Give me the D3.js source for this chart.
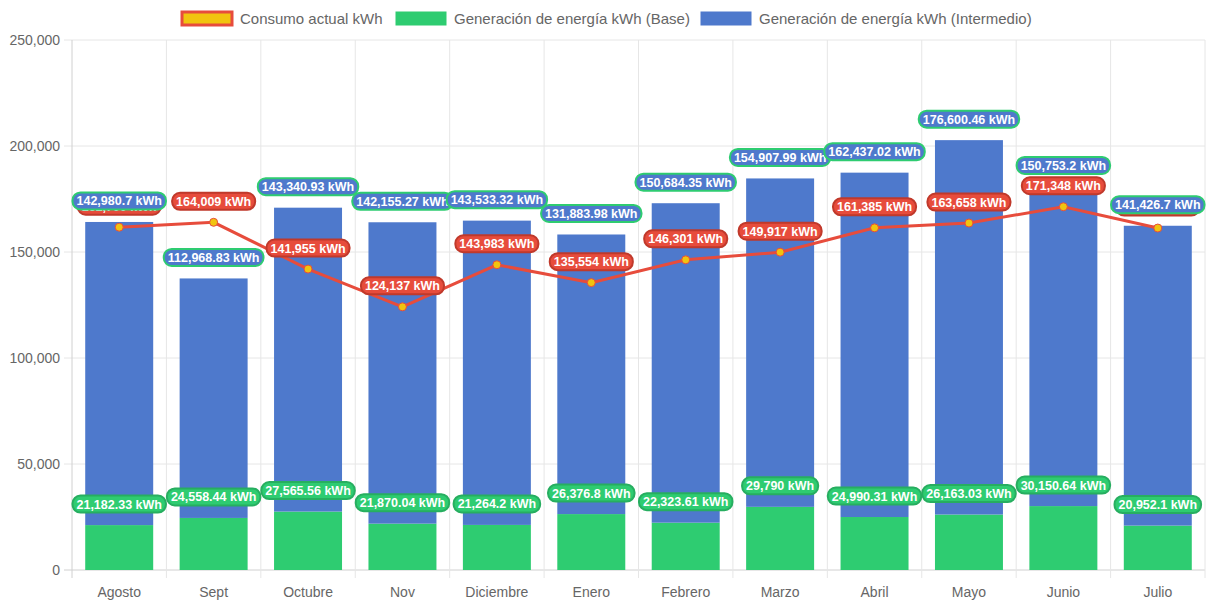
<!DOCTYPE html>
<html>
<head>
<meta charset="utf-8">
<script src="https://cdn.jsdelivr.net/npm/d3@7"></script>
<style>
    body { margin: 0; background: #fff; }
    svg { display: block; font-family: "Liberation Sans", Arial, sans-serif; }
</style>
</head>
<body>
<svg width="1213" height="606"></svg>
<script>
// Chart data
const months = ["Agosto", "Sept", "Octubre", "Nov", "Diciembre", "Enero", "Febrero", "Marzo", "Abril", "Mayo", "Junio", "Julio"];
const baseGen = [21182.33, 24558.44, 27565.56, 21870.04, 21264.2, 26376.8, 22323.61, 29790, 24990.31, 26163.03, 30150.64, 20952.1];
const interGen = [142980.7, 112968.83, 143340.93, 142155.27, 143533.32, 131883.98, 150684.35, 154907.99, 162437.02, 176600.46, 150753.2, 141426.7];
const consumo = [161700, 164009, 141955, 124137, 143983, 135554, 146301, 149917, 161385, 163658, 171348, 161300];
const yTicks = [0, 50000, 100000, 150000, 200000, 250000];
const legendItems = [
    {label: "Consumo actual kWh", fill: "#f1c40f", stroke: "#e74c3c", sw: 3},
    {label: "Generación de energía kWh (Base)", fill: "#2ecc71", stroke: "#2ecc71", sw: 1},
    {label: "Generación de energía kWh (Intermedio)", fill: "#4e79cc", stroke: "#4e79cc", sw: 1}
];

const svg = d3.select("svg");
const margin = {left: 72, right: 8, top: 40, bottom: 36};
const W = 1213, H = 606;

const x = d3.scaleBand().domain(months).range([margin.left, W - margin.right]).paddingInner(0).paddingOuter(0);
const y = d3.scaleLinear().domain([0, 250000]).range([H - margin.bottom, margin.top]);
const fmt = d3.format(",");
const barW = x.bandwidth() * 0.72;

// Grid
const grid = svg.append("g");
grid.selectAll("line.h").data(yTicks).join("line")
    .attr("x1", margin.left - 8).attr("x2", W - margin.right)
    .attr("y1", d => y(d)).attr("y2", d => y(d))
    .attr("stroke", d => d === 0 ? "#d0d0d0" : "#e6e6e6");
const vx = months.map(m => x(m)).concat([W - margin.right]);
grid.selectAll("line.v").data(vx).join("line")
    .attr("x1", d => d).attr("x2", d => d)
    .attr("y1", margin.top).attr("y2", H - margin.bottom + 8)
    .attr("stroke", (d, i) => i === 0 ? "#d0d0d0" : "#e6e6e6");

// Axis labels
svg.append("g").selectAll("text").data(yTicks).join("text")
    .attr("x", margin.left - 12).attr("y", d => y(d)).attr("dy", "0.35em")
    .attr("text-anchor", "end").attr("fill", "#666").attr("font-size", 14)
    .text(d => fmt(d));
svg.append("g").selectAll("text").data(months).join("text")
    .attr("x", d => x(d) + x.bandwidth() / 2).attr("y", H - margin.bottom + 27)
    .attr("text-anchor", "middle").attr("fill", "#666").attr("font-size", 14)
    .text(d => d);

// Stacked bars
const cx = m => x(m) + x.bandwidth() / 2;
svg.append("g").selectAll("rect").data(months).join("rect")
    .attr("x", d => cx(d) - barW / 2).attr("width", barW)
    .attr("y", (d, i) => y(baseGen[i])).attr("height", (d, i) => y(0) - y(baseGen[i]))
    .attr("fill", "#2ecc71");
svg.append("g").selectAll("rect").data(months).join("rect")
    .attr("x", d => cx(d) - barW / 2).attr("width", barW)
    .attr("y", (d, i) => y(baseGen[i] + interGen[i]))
    .attr("height", (d, i) => y(baseGen[i]) - y(baseGen[i] + interGen[i]))
    .attr("fill", "#4e79cc");

// Consumption line
const line = d3.line().x((d, i) => cx(months[i])).y(d => y(d));
svg.append("path").datum(consumo).attr("d", line)
    .attr("fill", "none").attr("stroke", "#e74c3c").attr("stroke-width", 3);
svg.append("g").selectAll("circle").data(consumo).join("circle")
    .attr("cx", (d, i) => cx(months[i])).attr("cy", d => y(d)).attr("r", 4)
    .attr("fill", "#f1c40f").attr("stroke", "#e74c3c").attr("stroke-width", 1);

// Data labels (drawn red, then green, then blue)
function labels(vals, tops, fill, stroke) {
    const g = svg.append("g");
    vals.forEach((v, i) => {
        const t = fmt(v) + " kWh";
        const lg = g.append("g").attr("transform", `translate(${cx(months[i])},${y(tops[i]) - 21})`);
        const rect = lg.append("rect").attr("fill", fill).attr("stroke", stroke).attr("stroke-width", 2);
        const txt = lg.append("text").attr("text-anchor", "middle").attr("dy", "0.36em")
            .attr("fill", "#fff").attr("font-size", 12.5).attr("font-weight", "bold").text(t);
        const w = txt.node().getComputedTextLength() + 8;
        rect.attr("x", -w / 2).attr("y", -8.5).attr("width", w).attr("height", 17).attr("rx", 8);
    });
}
labels(consumo, consumo, "#e74c3c", "#c0392b");
labels(baseGen, baseGen, "#2ecc71", "#27ae60");
labels(interGen, interGen.map((v, i) => v + baseGen[i]), "#4e79cc", "#2ecc71");

// Legend
const lg = svg.append("g").attr("font-size", 15).attr("fill", "#666");
const starts = [182, 396, 701];
legendItems.forEach((d, i) => {
    const g = lg.append("g").attr("transform", `translate(${starts[i]},12)`);
    g.append("rect").attr("width", 50).attr("height", 13)
        .attr("fill", d.fill).attr("stroke", d.stroke).attr("stroke-width", d.sw);
    g.append("text").attr("x", 58).attr("y", 6.5).attr("dy", "0.35em").attr("fill", "#666").text(d.label);
});
</script>
</body>
</html>
